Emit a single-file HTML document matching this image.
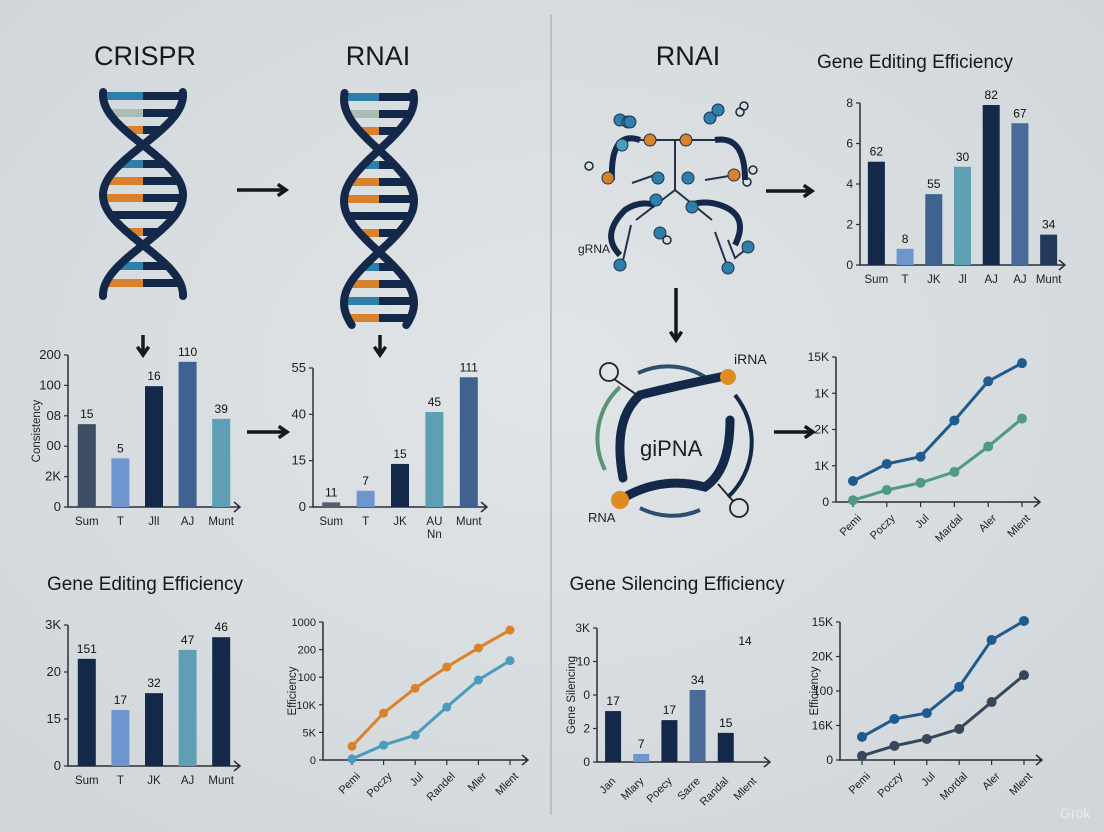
<!DOCTYPE html>
<html><head><meta charset="utf-8"><style>
html,body{margin:0;padding:0;width:1104px;height:832px;overflow:hidden;background:#d9dee1}
svg{display:block;font-family:"Liberation Sans",sans-serif}
</style></head><body>
<svg id="root" width="1104" height="832" viewBox="0 0 1104 832" xmlns="http://www.w3.org/2000/svg">
<defs><radialGradient id="bg" cx="50%" cy="45%" r="75%"><stop offset="0" stop-color="#e1e5e7"/><stop offset="1" stop-color="#cfd5d9"/></radialGradient></defs>
<rect width="1104" height="832" fill="url(#bg)"/>
<line x1="551" y1="15" x2="551" y2="815" stroke="#b9c0c5" stroke-width="2"/>
<g id="g"></g>
</svg>
<script>
// ---- Chart A (Consistency bar) ----
const aCats=["Sum","T","JlI","AJ","Munt"];
const aVals=[109,64,159,191,116];
const aLabels=["15","5","16","110","39"];
const aTicks=["0","2K","00","08","100","200"];
// ---- Chart B (RNAi bar) ----
const bCats=["Sum","T","JK","AU\nNn","Munt"];
const bVals=[0.1,0.35,0.93,2.05,2.8];
const bLabels=["11","7","15","45","111"];
const bTicks=["0","15","40","55"];
// ---- Chart C (Gene editing efficiency top) ----
const cCats=["Sum","T","JK","Jl","AJ","AJ","Munt"];
const cVals=[5.1,0.8,3.5,4.85,7.9,7.0,1.5];
const cLabels=["62","8","55","30","82","67","34"];
const cTicks=["0","2","4","6","8"];
// ---- Chart D (line top right) ----
const dCats=["Pemi","Poczy","Jul","Mardal","Aler","Mlent"];
const dBlue=[0.58,1.05,1.25,2.25,3.33,3.83];
const dGreen=[0.05,0.33,0.53,0.83,1.53,2.3];
const dTicks=["0","1K","2K","1K","15K"];
// ---- Chart E (Gene editing efficiency bottom bar) ----
const eCats=["Sum","T","JK","AJ","Munt"];
const eVals=[2.28,1.19,1.55,2.47,2.74];
const eLabels=["151","17","32","47","46"];
const eTicks=["0","15","20","3K"];
// ---- Chart F (line bottom left) ----
const fCats=["Pemi","Poczy","Jul","Randel","Mler","Mlent"];
const fOrange=[0.5,1.7,2.6,3.37,4.06,4.71];
const fBlue=[0.04,0.54,0.9,1.92,2.9,3.6];
const fTicks=["0","5K","10K","100","200","1000"];
// ---- Chart G (Gene silencing bar) ----
const gCats=["Jan","Mlary","Poecy","Sarre","Randal","Mlent"];
const gVals=[1.52,0.24,1.25,2.15,0.87,null];
const gLabels=["17","7","17","34","15",""];
const gTicks=["0","2","0","10","3K"];
// ---- Chart H (line bottom right) ----
const hCats=["Pemi","Poczy","Jul","Mordal","Aler","Mlent"];
const hBlue=[0.67,1.19,1.36,2.12,3.48,4.03];
const hGray=[0.12,0.41,0.61,0.9,1.68,2.46];
const hTicks=["0","16K","100","20K","15K"];

const NS="http://www.w3.org/2000/svg";
const G=document.getElementById("g");
function el(tag,attrs,parent,text){const e=document.createElementNS(NS,tag);for(const k in attrs)e.setAttribute(k,attrs[k]);if(text!==undefined)e.textContent=text;(parent||G).appendChild(e);return e;}
function grp(){const e=document.createElementNS(NS,"g");G.appendChild(e);return e;}

function axes(g,x0,y0,x1,yTop,ticks,fs){
  const ax=el("path",{d:`M${x0} ${yTop}V${y0}H${x1} M${x1-6} ${y0-5}L${x1} ${y0}L${x1-6} ${y0+5}`,stroke:"#2b2f36","stroke-width":1.5,fill:"none"},g);
  
  
  const step=(y0-yTop)/(ticks.length-1);
  ticks.forEach((t,i)=>{const y=y0-i*step;
    const tk=el("line",{x1:x0-4,y1:y,x2:x0,y2:y,stroke:"#2b2f36","stroke-width":1.2},g);
    
    
    const tl=el("text",{x:x0-7,y:y+4,"font-size":fs||12,"text-anchor":"end",fill:"#1c2026"},g,t);
    
    
  });
  return step;
}
function barChart(o){
  const g=grp();
  
  
  const step=axes(g,o.x0,o.y0,o.x1,o.yTop,o.ticks,o.fs);
  const unit=o.unitPx?o.unitPx:step;
  const n=o.cats.length;const slot=(o.x1-o.x0-o.pad)/n;
  o.cats.forEach((c,i)=>{
    const cx=o.x0+o.pad/2+slot*(i+0.5);
    const v=o.vals[i];
    if(v!==null&&v!==undefined){
      const h=v*unit;
      const r=el("rect",{x:cx-o.bw/2,y:o.y0-h,width:o.bw,height:h,fill:o.colors[i%o.colors.length]},g);
      
      
      if(o.labels[i]){const t=el("text",{x:cx,y:o.y0-h-6,"font-size":12,"text-anchor":"middle",fill:"#111"},g,o.labels[i]);
        
        }
    }
    if(o.rot){const t=el("text",{x:cx,y:o.y0+16,"font-size":11,"text-anchor":"end",fill:"#1c2026",transform:`rotate(-45 ${cx+6} ${o.y0+14})`},g,c);
      
      }
    else c.split("\n").forEach((ln,j)=>{const t=el("text",{x:cx,y:o.y0+18+j*13,"font-size":11.5,"text-anchor":"middle",fill:"#1c2026"},g,ln);
      
      });
  });
  if(o.ytitle){const t=el("text",{x:o.tx,y:(o.y0+o.yTop)/2,"font-size":11.5,"text-anchor":"middle",fill:"#1c2026",transform:`rotate(-90 ${o.tx} ${(o.y0+o.yTop)/2})`},g,o.ytitle);
    
    }
  return g;
}
function lineChart(o){
  const g=grp();
  
  
  const step=axes(g,o.x0,o.y0,o.x1,o.yTop,o.ticks,o.fs);
  const n=o.cats.length;const sx=i=>o.xs+i*(o.xe-o.xs)/(n-1);const sy=v=>o.y0-v*step;
  o.cats.forEach((c,i)=>{const x=sx(i);
    const tk=el("line",{x1:x,y1:o.y0,x2:x,y2:o.y0+5,stroke:"#2b2f36","stroke-width":1.2},g);
    
    
    const t=el("text",{x:x+6,y:o.y0+18,"font-size":11,"text-anchor":"end",fill:"#1c2026",transform:`rotate(-45 ${x+6} ${o.y0+14})`},g,c);
    
    });
  o.series.forEach((s,si)=>{
    const p=el("polyline",{points:s.vals.map((v,i)=>sx(i)+","+sy(v)).join(" "),fill:"none",stroke:s.color,"stroke-width":3},g);
    
    
    s.vals.forEach((v,i)=>{const c=el("circle",{cx:sx(i),cy:sy(v),r:o.r||5,fill:s.color},g);
      
      });
  });
  if(o.ytitle){const t=el("text",{x:o.tx,y:(o.y0+o.yTop)/2,"font-size":11.5,"text-anchor":"middle",fill:"#1c2026",transform:`rotate(-90 ${o.tx} ${(o.y0+o.yTop)/2})`},g,o.ytitle);
    
    }
}
const navy="#14284a";
barChart({name:"consistency-bar-chart",cats:aCats,vals:aVals,labels:aLabels,ticks:aTicks,x0:68,y0:507,x1:240,yTop:355,pad:4,bw:18,unitPx:152/200,colors:["#3d4e64","#6f95cf",navy,"#3f6290","#5e9fb4"],ytitle:"Consistency",tx:40,fs:13});
barChart({name:"rnai-bar-chart",cats:bCats,vals:bVals,labels:bLabels,ticks:bTicks,x0:313,y0:507,x1:487,yTop:368,pad:2,bw:18,colors:["#55606d","#6f95cf",navy,"#5e9fb4","#3f6290"],fs:13});
barChart({name:"gene-editing-top-bar-chart",cats:cCats,vals:cVals,labels:cLabels,ticks:cTicks,x0:860,y0:265,x1:1065,yTop:103,pad:4,bw:17,unitPx:162/8,colors:[navy,"#6f95cf","#3f6290","#5e9fb4",navy,"#4a6a9a","#22395c"],fs:12});
lineChart({name:"top-right-line-chart",cats:dCats,ticks:dTicks,x0:836,y0:502,x1:1040,yTop:357,xs:853,xe:1022,series:[{key:"blue",vals:dBlue,color:"#1f5b8d"},{key:"green",vals:dGreen,color:"#4f9a80"}],fs:12});
barChart({name:"gene-editing-bottom-bar-chart",cats:eCats,vals:eVals,labels:eLabels,ticks:eTicks,x0:68,y0:766,x1:240,yTop:625,pad:4,bw:18,colors:[navy,"#6f95cf",navy,"#5e9fb4",navy],fs:13});
lineChart({name:"bottom-left-line-chart",cats:fCats,ticks:fTicks,x0:323,y0:760,x1:528,yTop:622,xs:352,xe:510,series:[{key:"orange",vals:fOrange,color:"#d9822b"},{key:"blue",vals:fBlue,color:"#4b9bbd"}],ytitle:"Efficiency",tx:296,r:4.5,fs:11});
barChart({name:"gene-silencing-bar-chart",cats:gCats,vals:gVals,labels:gLabels,ticks:gTicks,x0:597,y0:762,x1:770,yTop:628,pad:4,bw:16,colors:[navy,"#6f95cf",navy,"#4a6a9a",navy,navy],rot:true,ytitle:"Gene Silencing",tx:575,fs:12});
lineChart({name:"bottom-right-line-chart",cats:hCats,ticks:hTicks,x0:840,y0:760,x1:1042,yTop:622,xs:862,xe:1024,series:[{key:"blue",vals:hBlue,color:"#1f5b8d"},{key:"gray",vals:hGray,color:"#37475b"}],ytitle:"Efficiency",tx:818,fs:12});

// titles
[["CRISPR",145,65,27,"crispr-title"],["RNAI",378,65,27,"rnai-title-left"],["RNAI",688,65,27,"rnai-title-right"],["Gene Editing Efficiency",915,68,19,"gene-editing-title-top"],["Gene Editing Efficiency",145,590,19,"gene-editing-title-bottom"],["Gene Silencing Efficiency",677,590,19,"gene-silencing-title"]].forEach(t=>{
  const e=el("text",{x:t[1],y:t[2],"font-size":t[3],"text-anchor":"middle",fill:"#15181d"},G,t[0]);
  
  
});
const t14=el("text",{x:745,y:645,"font-size":12,"text-anchor":"middle",fill:"#111"},G,"14");



// arrows
function arrow(x1,y1,x2,y2,name){const a=grp();
  
  
  const ang=Math.atan2(y2-y1,x2-x1);
  el("line",{x1,y1,x2,y2,stroke:"#15181d","stroke-width":3.5},a);
  const L=10;el("path",{d:`M${x2-L*Math.cos(ang-0.6)} ${y2-L*Math.sin(ang-0.6)}L${x2} ${y2}L${x2-L*Math.cos(ang+0.6)} ${y2-L*Math.sin(ang+0.6)}`,stroke:"#15181d","stroke-width":3.5,fill:"none"},a);}
arrow(237,190,286,190,"arrow-crispr-to-rnai");
arrow(143,335,143,355,"arrow-down-1");
arrow(380,335,380,355,"arrow-down-2");
arrow(247,432,287,432,"arrow-bar-to-bar");
arrow(766,191,812,191,"arrow-rnai-to-bar");
arrow(676,288,676,340,"arrow-down-3");
arrow(774,432,813,432,"arrow-circle-to-line");

// DNA helices
function helix(c,A,yA,yB,y0,per,name){
  const h=grp();
  
  
  const cols=["#2f7fab","#a9bdb4","#d9822b","#2f7fab","#d9822b","#d9822b",navy,"#d9822b","#2f7fab","#d9822b","#2f7fab","#d9822b"];
  let k=0;
  for(let y=yA+4;y<yB;y+=17){const s=Math.sin(Math.PI*(y-y0)/per)*A;const xl=c-Math.abs(s),xr=c+Math.abs(s);
    if(Math.abs(s)<8)continue;const mid=(xl+xr)/2;
    el("rect",{x:xl,y:y-4,width:mid-xl,height:8,fill:cols[k%cols.length]},h);
    el("rect",{x:mid,y:y-4,width:xr-mid,height:8,fill:navy},h);k++;}
  [1,-1].forEach(sg=>{let d="";for(let y=yA;y<=yB;y+=2){const x=c+sg*Math.sin(Math.PI*(y-y0)/per)*A;d+=(d?"L":"M")+x.toFixed(1)+" "+y;}
    el("path",{d,stroke:navy,"stroke-width":8,fill:"none","stroke-linecap":"round"},h);});
}
helix(143,40,92,296,145,100,"dna-helix-crispr");
helix(379,35,93,325,150,102,"dna-helix-rnai");

// RNAi molecule (decorative)
const m=grp();


[["M628 140L720 140",2],["M675 140L675 190L636 220",2],["M675 190L712 220",2],["M632 183L655 175",2],["M705 180L735 175",2],["M631 225L622 265",2],["M728 240L735 258L745 250",2],["M715 232L727 265",2]].forEach(p=>el("path",{d:p[0],stroke:"#23324a","stroke-width":p[1],fill:"none"},m));
[["M612 180Q610 130 640 140",6],["M745 180Q745 135 715 140",6],["M620 255Q600 235 625 210Q640 200 655 205",6],["M735 245Q750 215 720 205Q705 200 690 205",6]].forEach(p=>el("path",{d:p[0],stroke:navy,"stroke-width":p[1],fill:"none"},m));
[[622,145,"#4b9bbd"],[620,120,"#2f7fab"],[628,122,"#2f7fab"],[630,122,"#2f7fab"],[650,140,"#d9822b"],[686,140,"#d9822b"],[710,118,"#2f7fab"],[718,110,"#2f7fab"],[608,178,"#d9822b"],[734,175,"#d9822b"],[658,178,"#2f7fab"],[688,178,"#2f7fab"],[656,200,"#2f7fab"],[692,207,"#2f7fab"],[660,233,"#2f7fab"],[620,265,"#2f7fab"],[728,268,"#2f7fab"],[748,247,"#2f7fab"]].forEach(c=>el("circle",{cx:c[0],cy:c[1],r:6,fill:c[2],stroke:"#1a3550","stroke-width":1},m));
[[589,166],[740,112],[744,106],[753,170],[747,182],[667,240]].forEach(c=>el("circle",{cx:c[0],cy:c[1],r:4,fill:"none",stroke:"#1a2a3a","stroke-width":1.5},m));
el("text",{x:578,y:253,"font-size":12,fill:"#1c2026"},m,"gRNA");

// circular siRNA graphic
const cg=grp();


el("path",{d:"M605 470A70 70 0 0 1 620 387",stroke:"#5a9478","stroke-width":4,fill:"none"},cg);
el("path",{d:"M638 373A70 70 0 0 1 705 377",stroke:"#2d4e70","stroke-width":4,fill:"none"},cg);
el("path",{d:"M735 395A75 75 0 0 1 728 497",stroke:navy,"stroke-width":4,fill:"none"},cg);
el("path",{d:"M640 508A70 70 0 0 0 700 510",stroke:"#2d4e70","stroke-width":4,fill:"none"},cg);
el("path",{d:"M623 478Q612 420 640 395Q680 385 725 376",stroke:navy,"stroke-width":9,fill:"none","stroke-linecap":"round"},cg);
el("path",{d:"M620 500Q660 475 705 487Q730 470 730 420",stroke:navy,"stroke-width":9,fill:"none","stroke-linecap":"round"},cg);
el("circle",{cx:728,cy:377,r:8,fill:"#e08a22"},cg);
el("circle",{cx:620,cy:500,r:9,fill:"#e08a22"},cg);
el("circle",{cx:609,cy:372,r:9,fill:"none",stroke:"#222","stroke-width":1.8},cg);
el("line",{x1:614,y1:379,x2:640,y2:397,stroke:"#222","stroke-width":1.8},cg);
el("circle",{cx:739,cy:508,r:9,fill:"none",stroke:"#222","stroke-width":1.8},cg);
el("line",{x1:733,y1:501,x2:718,y2:484,stroke:"#222","stroke-width":1.8},cg);
el("text",{x:640,y:456,"font-size":22,fill:"#1c2026"},cg,"giPNA");
el("text",{x:734,y:364,"font-size":14,fill:"#1c2026"},cg,"iRNA");
el("text",{x:588,y:522,"font-size":13,fill:"#1c2026"},cg,"RNA");
const wm=el("text",{x:1060,y:818,"font-size":14,fill:"#e8ecee"},G,"Grok");


</script>
</body></html>
